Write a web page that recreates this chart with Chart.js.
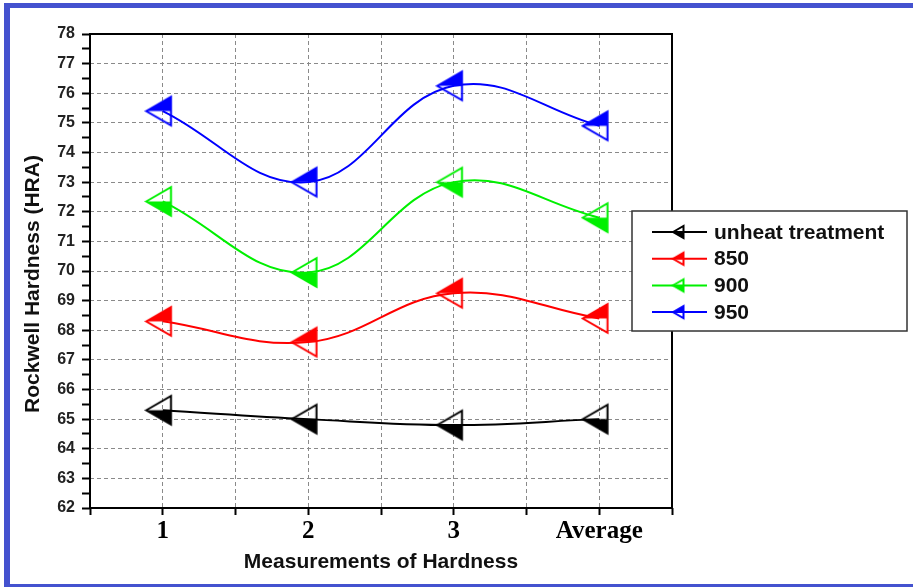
<!DOCTYPE html>
<html>
<head>
<meta charset="utf-8">
<script src="https://cdn.jsdelivr.net/npm/chart.js@4"></script>
<style>
  html, body { margin: 0; padding: 0; background: #fff; overflow: hidden; }
  #frame {
    position: absolute; left: 4px; top: 3px; width: 1000px; height: 576px;
    border-left: 6px solid #4452cf; border-top: 5px solid #4452cf; border-bottom: 3px solid #4452cf;
  }
</style>
</head>
<body>
<div id="frame"></div>
<canvas id="hardnessChart" width="913" height="587" style="position:absolute;left:0;top:0"></canvas>
<script>
// Data
const categories = ["1", "2", "3", "Average"];
const seriesLabels = ["unheat treatment", "850", "900", "950"];
const unheat = [65.3, 65.0, 64.8, 65.0];
const temp850 = [68.3, 67.6, 69.25, 68.4];
const temp900 = [72.35, 69.95, 73.0, 71.8];
const temp950 = [75.4, 73.0, 76.25, 74.9];
const yMin = 62, yMax = 78;

const colors = ["#000000", "#ff0000", "#00f000", "#0000ff"];
const fillTop = [false, true, false, true];

// Left-pointing triangle, half filled (Origin style marker)
function makeMarker(color, top, r) {
  const size = Math.ceil(2 * r + 4);
  const c = document.createElement("canvas");
  c.width = c.height = size;
  const g = c.getContext("2d");
  const cx = size / 2, cy = size / 2, h = r * Math.sqrt(3) / 2;
  const tip = [cx - r, cy], up = [cx + r / 2, cy - h], down = [cx + r / 2, cy + h];
  g.fillStyle = color;
  g.beginPath();
  g.moveTo(tip[0], tip[1]);
  g.lineTo(top ? up[0] : down[0], top ? up[1] : down[1]);
  g.lineTo(cx + r / 2, cy);
  g.closePath();
  g.fill();
  g.strokeStyle = color;
  g.lineWidth = 2;
  g.beginPath();
  g.moveTo(tip[0], tip[1]);
  g.lineTo(up[0], up[1]);
  g.lineTo(down[0], down[1]);
  g.closePath();
  g.stroke();
  return c;
}

const allSeries = [unheat, temp850, temp900, temp950];
const datasets = allSeries.map((vals, i) => ({
  label: seriesLabels[i],
  data: vals.map((v, j) => ({ x: j + 1, y: v })),
  borderColor: colors[i],
  backgroundColor: colors[i],
  borderWidth: 2,
  tension: 0.4,
  pointStyle: makeMarker(colors[i], fillTop[i], 16.5),
  fill: false
}));

const SANS = "'Liberation Sans', Arial, sans-serif";
const SERIF = "'Liberation Serif', 'Times New Roman', serif";

// Frame, rotated y title and boxed legend
const decorations = {
  id: "decorations",
  afterDraw(chart) {
    const { ctx, chartArea: a } = chart;
    ctx.save();
    ctx.strokeStyle = "#000";
    ctx.lineWidth = 2;
    ctx.strokeRect(a.left, a.top, a.right - a.left, a.bottom - a.top);

    ctx.translate(33, (a.top + a.bottom) / 2 + 13);
    ctx.rotate(-Math.PI / 2);
    ctx.font = "bold 21px " + SANS;
    ctx.fillStyle = "#111";
    ctx.textAlign = "center";
    ctx.textBaseline = "middle";
    ctx.fillText("Rockwell Hardness (HRA)", 0, 0);
    ctx.restore();

    // legend box
    ctx.save();
    const bx = 632, by = 211, bw = 275, bh = 120;
    ctx.fillStyle = "#fff";
    ctx.fillRect(bx, by, bw, bh);
    ctx.strokeStyle = "#333";
    ctx.lineWidth = 1.5;
    ctx.strokeRect(bx, by, bw, bh);
    chart.data.datasets.forEach((ds, i) => {
      const y = 232 + i * 26.7;
      ctx.strokeStyle = ds.borderColor;
      ctx.lineWidth = 2;
      ctx.beginPath();
      ctx.moveTo(652, y);
      ctx.lineTo(707, y);
      ctx.stroke();
      const m = makeMarker(ds.borderColor, fillTop[i], 7);
      ctx.drawImage(m, 680 - m.width / 2, y - m.height / 2);
      ctx.font = "bold 21px " + SANS;
      ctx.fillStyle = "#111";
      ctx.textAlign = "left";
      ctx.textBaseline = "middle";
      ctx.fillText(ds.label, 714, y + 1);
    });
    ctx.restore();
  }
};

const ctx = document.getElementById("hardnessChart").getContext("2d");
new Chart(ctx, {
  type: "line",
  data: { datasets: datasets },
  options: {
    responsive: false,
    animation: false,
    layout: { padding: { left: 20, top: 34, right: 241, bottom: 0 } },
    scales: {
      x: {
        type: "linear",
        min: 0.5,
        max: 4.5,
        afterFit: s => { s.height = 79; },
        ticks: {
          stepSize: 0.5,
          autoSkip: false,
          maxRotation: 0,
          padding: 2,
          color: "#000",
          font: { family: SERIF, size: 25, weight: "bold" },
          callback: v => Number.isInteger(v) ? categories[v - 1] : ""
        },
        grid: {
          color: "#8a8a8a",
          tickColor: "#000",
          tickLength: 7,
          tickWidth: 2
        },
        border: { display: false, dash: [4, 3] },
        title: {
          display: true,
          text: "Measurements of Hardness",
          color: "#111",
          font: { family: SANS, size: 21, weight: "bold" },
          padding: { top: 0, bottom: 12 }
        }
      },
      y: {
        min: yMin,
        max: yMax,
        afterFit: s => { s.width = 70; },
        ticks: {
          stepSize: 0.5,
          autoSkip: false,
          padding: 7,
          color: "#222",
          font: { family: SANS, size: 16, weight: "bold" },
          callback: v => Number.isInteger(v) ? v : ""
        },
        grid: {
          color: c => Number.isInteger(c.tick.value) ? "#8a8a8a" : "rgba(0,0,0,0)",
          tickColor: "#000",
          tickLength: 8,
          tickWidth: 2
        },
        border: { display: false, dash: [4, 3] }
      }
    },
    plugins: {
      legend: { display: false },
      tooltip: { enabled: false }
    }
  },
  plugins: [decorations]
});
</script>
</body>
</html>
